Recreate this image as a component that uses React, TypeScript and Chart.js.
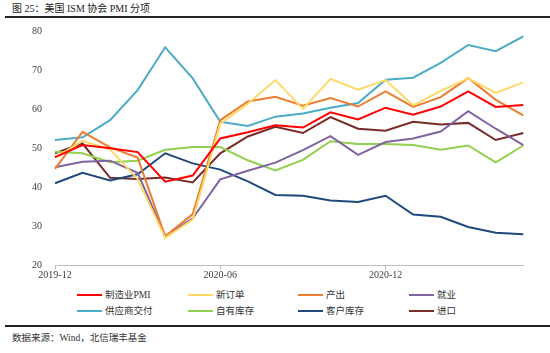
import React, { useEffect, useRef } from "react";
import { Chart, registerables } from "chart.js";

Chart.register(...registerables);

const months = [
  "2019-12", "2020-01", "2020-02", "2020-03", "2020-04", "2020-05",
  "2020-06", "2020-07", "2020-08", "2020-09", "2020-10", "2020-11",
  "2020-12", "2021-01", "2021-02", "2021-03", "2021-04", "2021-05",
];

const pmi = [47.8, 50.9, 50.1, 49.1, 41.5, 43.1, 52.6, 54.2, 56.0, 55.4, 59.3, 57.5, 60.5, 58.7, 60.8, 64.7, 60.7, 61.2];
const newOrders = [47.6, 52.0, 49.8, 42.2, 27.1, 31.8, 56.4, 61.5, 67.6, 60.2, 67.9, 65.1, 67.6, 61.1, 64.8, 68.0, 64.3, 67.0];
const production = [44.8, 54.3, 50.3, 47.7, 27.5, 33.2, 57.3, 62.1, 63.3, 61.0, 63.0, 60.8, 64.7, 60.7, 63.2, 68.1, 62.5, 58.5];
const employment = [45.2, 46.6, 46.9, 43.8, 27.5, 32.1, 42.1, 44.3, 46.4, 49.6, 53.2, 48.4, 51.7, 52.6, 54.4, 59.6, 55.1, 50.9];
const supplierDeliveries = [52.2, 52.9, 57.3, 65.0, 76.0, 68.0, 56.9, 55.8, 58.2, 59.0, 60.5, 61.7, 67.7, 68.2, 72.0, 76.6, 75.0, 78.8];
const inventories = [49.2, 48.8, 46.5, 46.9, 49.7, 50.4, 50.4, 47.0, 44.4, 47.1, 51.9, 51.2, 51.2, 50.9, 49.7, 50.8, 46.5, 50.8];
const customersInventories = [41.1, 43.8, 41.8, 43.4, 48.8, 46.2, 44.6, 41.6, 38.1, 37.9, 36.7, 36.3, 37.9, 33.1, 32.5, 29.9, 28.4, 28.0];
const imports = [48.8, 51.3, 42.5, 42.2, 42.6, 41.3, 48.8, 53.1, 55.6, 54.0, 58.1, 55.1, 54.6, 56.9, 56.2, 56.6, 52.2, 54.0];

const labeledTicks = ["2019-12", "2020-06", "2020-12"];

const seriesNames = ["制造业PMI", "新订单", "产出", "就业", "供应商交付", "自有库存", "客户库存", "进口"];
const seriesValues = [pmi, newOrders, production, employment, supplierDeliveries, inventories, customersInventories, imports];
const seriesColors = ["#FF0000", "#FFD966", "#ED7D31", "#8064A2", "#4BACC6", "#92D050", "#1F497D", "#772C2A"];

const latin = "'Liberation Serif', 'Noto Sans CJK SC', serif";

export default function App() {
  const canvasRef = useRef<HTMLCanvasElement | null>(null);

  useEffect(() => {
    if (!canvasRef.current) return;
    const chart = new Chart(canvasRef.current, {
      type: "line",
      data: {
        labels: months,
        datasets: seriesNames.map((name, i) => ({
          label: name,
          data: seriesValues[i],
          borderColor: seriesColors[i],
          backgroundColor: seriesColors[i],
          borderWidth: 2,
          pointRadius: 0,
          tension: 0,
          fill: false,
        })),
      },
      options: {
        responsive: false,
        animation: false,
        layout: { padding: { left: 0, right: 26.7, top: 11.7, bottom: 0 } },
        plugins: { legend: { display: false }, tooltip: { enabled: false } },
        scales: {
          x: {
            type: "category",
            offset: false,
            afterFit: (s: any) => { s.height = 19.5; s.paddingLeft = 0; s.paddingRight = 0; },
            grid: {
              display: true,
              drawOnChartArea: false,
              drawTicks: true,
              tickLength: 4,
              color: (ctx: any) => (labeledTicks.includes(months[ctx.index]) ? "#BFBFBF" : "rgba(0,0,0,0)"),
            },
            border: { display: true, color: "#BFBFBF", width: 1 },
            ticks: {
              autoSkip: false,
              maxRotation: 0,
              padding: 0,
              color: "#404040",
              font: { family: latin, size: 10 },
              callback: (_v: any, i: number) => (labeledTicks.includes(months[i]) ? months[i] : ""),
            },
          },
          y: {
            min: 20,
            max: 80,
            afterFit: (s: any) => { s.width = 55; s.paddingTop = 0; s.paddingBottom = 0; },
            grid: { display: false, drawTicks: false },
            border: { display: false },
            ticks: {
              stepSize: 10,
              padding: 13,
              color: "#404040",
              font: { family: latin, size: 10 },
            },
          },
        },
      },
    });
    return () => chart.destroy();
  }, []);

  const legendCols = [77, 188, 298, 409];
  const legendRows = [295, 311];

  return (
    <div style={{ position: "absolute", left: 0, top: 0, width: 550, height: 353, background: "#fff", overflow: "hidden" }}>
      <div style={{ position: "absolute", left: 12, top: 2, fontFamily: latin, fontSize: 10, color: "#222", whiteSpace: "nowrap", lineHeight: "14px" }}>
        图 25：美国 ISM 协会 PMI 分项
      </div>
      <div style={{ position: "absolute", left: 5, top: 16, width: 545, height: 1.5, background: "#222" }} />
      <canvas ref={canvasRef} width={550} height={265} style={{ position: "absolute", left: 0, top: 20, width: 550, height: 265 }} />
      {seriesNames.map((name, i) => {
        const col = i % 4;
        const row = Math.floor(i / 4);
        const x = legendCols[col];
        const y = legendRows[row];
        return (
          <div key={name} style={{ position: "absolute", left: x, top: y - 7, height: 14, display: "flex", alignItems: "center", whiteSpace: "nowrap" }}>
            <div style={{ width: 25, height: 2, background: seriesColors[i], marginRight: 3 }} />
            <span style={{ fontFamily: latin, fontSize: 9.5, color: "#333", lineHeight: "14px" }}>{name}</span>
          </div>
        );
      })}
      <div style={{ position: "absolute", left: 5, top: 325, width: 545, height: 1.5, background: "#222" }} />
      <div style={{ position: "absolute", left: 12, top: 331, fontFamily: latin, fontSize: 9.5, color: "#333", whiteSpace: "nowrap", lineHeight: "14px" }}>
        数据来源：Wind，北信瑞丰基金
      </div>
    </div>
  );
}
